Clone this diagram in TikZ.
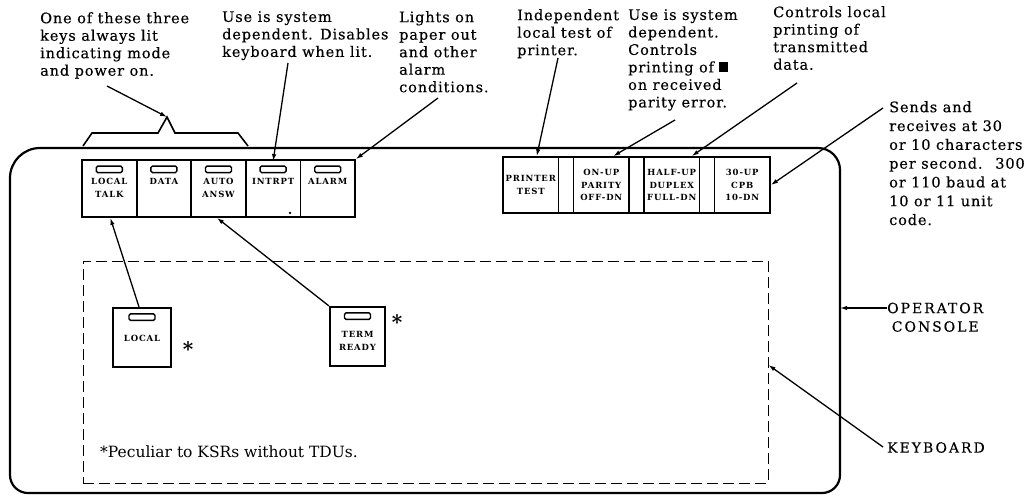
\documentclass[tikz,border=0pt]{standalone}
\usepackage{fontspec}
\setmainfont{DejaVu Serif}
\newfontfamily\notefont[LetterSpace=6,FakeBold=0.3]{DejaVu Serif}
\newfontfamily\keyfont[LetterSpace=10]{DejaVu Serif}
\newfontfamily\capfont[LetterSpace=14,FakeBold=0.3]{DejaVu Serif}
\usetikzlibrary{calc,arrows.meta}
\def\lamp(#1){\draw[lampbox] ([xshift=-13pt,yshift=-7pt]#1.north) rectangle ([xshift=13pt,yshift=-13.5pt]#1.north);}
\tikzset{
	console/.style={line width=2.2pt},
	kbdarea/.style={draw, line width=1pt, dash pattern=on 11pt off 5pt, minimum width=685pt, minimum height=222pt, inner sep=0pt},
	keybox/.style={draw, line width=1.8pt, minimum width=54.6pt, minimum height=57pt, inner sep=0pt, align=center, font=\keyfont\fontsize{8.5}{12.5}\selectfont\bfseries},
	keytext/.style={anchor=north, inner sep=0pt, align=center, font=\keyfont\fontsize{8.5}{13}\selectfont\bfseries},
	lampbox/.style={line width=1.4pt, rounded corners=1.5pt},
	note/.style={anchor=north west, inner sep=0pt, align=left, font=\notefont\fontsize{14.5}{17.5}\selectfont},
	capnote/.style={anchor=north west, inner sep=0pt, align=center, font=\capfont\fontsize{14}{18.5}\selectfont},
	star/.style={inner sep=0pt, font=\fontsize{20}{20}\selectfont\bfseries},
	pointer/.style={line width=1.3pt, -{Latex[length=7pt,width=4.5pt]}},
	bracket/.style={line width=1.6pt}
}
\begin{document}
\begin{tikzpicture}[x=1pt,y=-1pt]
	%%%%% START %%%%%
	\useasboundingbox (0,0) rectangle (1030,499);
	
	% console
	\draw[console] (430,148) [rounded corners=22pt] -| (840,320) [rounded corners=18pt] |- (430,493) -| (10,320) [rounded corners=30pt] |- (430,148);
	\coordinate (cons) at (840,308);
	\node[kbdarea] (kbd) at (425.5,372) {};
	
	% mode keys
	\node[keybox] (ltalk) at (109.3,188.5) {};
	\node[keybox] (data) at (163.9,188.5) {};
	\node[keybox] (answ) at (218.5,188.5) {};
	\node[keybox] (intrpt) at (273.1,188.5) {};
	\node[keybox] (alarm) at (327.7,188.5) {};
	\node[keytext] (ltalkt) at ([yshift=-19pt]ltalk.north) {LOCAL\\TALK};
	\node[keytext] (datat) at ([yshift=-19pt]data.north) {DATA};
	\node[keytext] (answt) at ([yshift=-19pt]answ.north) {AUTO\\ANSW};
	\node[keytext] (intrptt) at ([yshift=-19pt]intrpt.north) {INTRPT};
	\node[keytext] (alarmt) at ([yshift=-19pt]alarm.north) {ALARM};
	\lamp(ltalk) \lamp(data) \lamp(answ) \lamp(intrpt) \lamp(alarm)
	\fill ([xshift=17pt,yshift=5pt]intrpt.south) circle (1.3pt);
	
	% switch keys
	\node[keybox, minimum width=55.5pt, minimum height=56pt] (ptest) at (530.75,185) {PRINTER\\TEST};
	\node[keybox, minimum width=15pt, minimum height=56pt] (gapa) at (566,185) {};
	\node[keybox, minimum width=55.5pt, minimum height=56pt] (onup) at (601.25,185) {ON-UP\\PARITY\\OFF-DN};
	\node[keybox, minimum width=15pt, minimum height=56pt] (gapb) at (636.5,185) {};
	\node[keybox, minimum width=55.5pt, minimum height=56pt] (half) at (671.75,185) {HALF-UP\\DUPLEX\\FULL-DN};
	\node[keybox, minimum width=15pt, minimum height=56pt] (gapc) at (707,185) {};
	\node[keybox, minimum width=55.5pt, minimum height=56pt] (cpb) at (742.25,185) {30-UP\\CPB\\10-DN};
	
	% keyboard keys
	\node[keybox, minimum width=58pt, minimum height=59pt, line width=2.2pt] (local) at (142,337.5) {};
	\node[keytext] (localt) at ([yshift=-28pt]local.north) {LOCAL};
	\lamp(local)
	\node[keybox, minimum width=55pt, minimum height=59pt, line width=2.2pt] (term) at (357.5,336.5) {};
	\node[keytext] (termt) at ([yshift=-25pt]term.north) {TERM\\READY};
	\lamp(term)
	\node[star] (astl) at (188,349) {*};
	\node[star] (astt) at (397,322) {*};
	\node[anchor=west, inner sep=0pt, font=\fontsize{15.5}{18}\selectfont] (foot) at (100,452) {*Peculiar to KSRs without TDUs.};
	
	% notes
	\node[note] (nmode) at (40,12) {One of these three\\keys always lit\\indicating mode\\and power on.};
	\node[note] (nintr) at (222,11) {Use is system\\dependent. Disables\\keyboard when lit.};
	\node[note] (nalarm) at (399,11) {Lights on\\paper out\\and other\\alarm\\conditions.};
	\node[note] (ntest) at (517,9) {Independent\\local test of\\printer.};
	\node[note] (nparity) at (628,9) {Use is system\\dependent.\\Controls\\printing of\hspace{5pt}\rule{9pt}{10pt}\\on received\\parity error.};
	\node[note] (nduplex) at (773,6) {Controls local\\printing of\\transmitted\\data.};
	\node[note, font=\notefont\fontsize{14.5}{18.8}\selectfont] (nspeed) at (889,101) {Sends and\\receives at 30\\or 10 characters\\per second. \ 300\\or 110 baud at\\10 or 11 unit\\code.};
	\node[capnote] (nconsole) at (887,302.5) {OPERATOR\\CONSOLE};
	\node[capnote] (nkbd) at (887,442) {KEYBOARD};
	
	% bracket
	\coordinate (peak) at (167,117);
	\draw[bracket] (83,146) -- (92,133) -- (158,133) -- (peak) -- (175,133) -- (238,133) -- (248,146);
	
	% pointers
	\draw[pointer] ($(nmode.north west)+(67,74)$) -- (peak);
	\draw[pointer] ($(nintr.north west)+(66,52)$) -- ([yshift=-2pt]intrpt.north);
	\draw[pointer] ($(nalarm.north west)+(39,87)$) -- (alarm.north east);
	\draw[pointer] ($(ntest.north west)+(41,49)$) -- ([xshift=6pt]ptest.north);
	\draw[pointer] ($(nparity.north west)+(47,111)$) -- ([xshift=12pt]onup.north);
	\draw[pointer] ($(nduplex.north west)+(24,77)$) -- ([xshift=20pt]half.north);
	\draw[pointer] ($(nspeed.north west)+(-6,7)$) -- (cpb.east);
	\draw[pointer] ($(nconsole.north west)+(0,5.5)$) -- (cons);
	\draw[pointer] ($(nkbd.north west)+(-4,5)$) -- ([yshift=7pt]kbd.east);
	\draw[pointer] ([xshift=-3pt]local.north) -- ([xshift=1pt]ltalk.south);
	\draw[pointer] (term.north west) -- ([xshift=-1.5pt]answ.south);
	
	%%%%% END %%%%%
\end{tikzpicture}
\end{document}
